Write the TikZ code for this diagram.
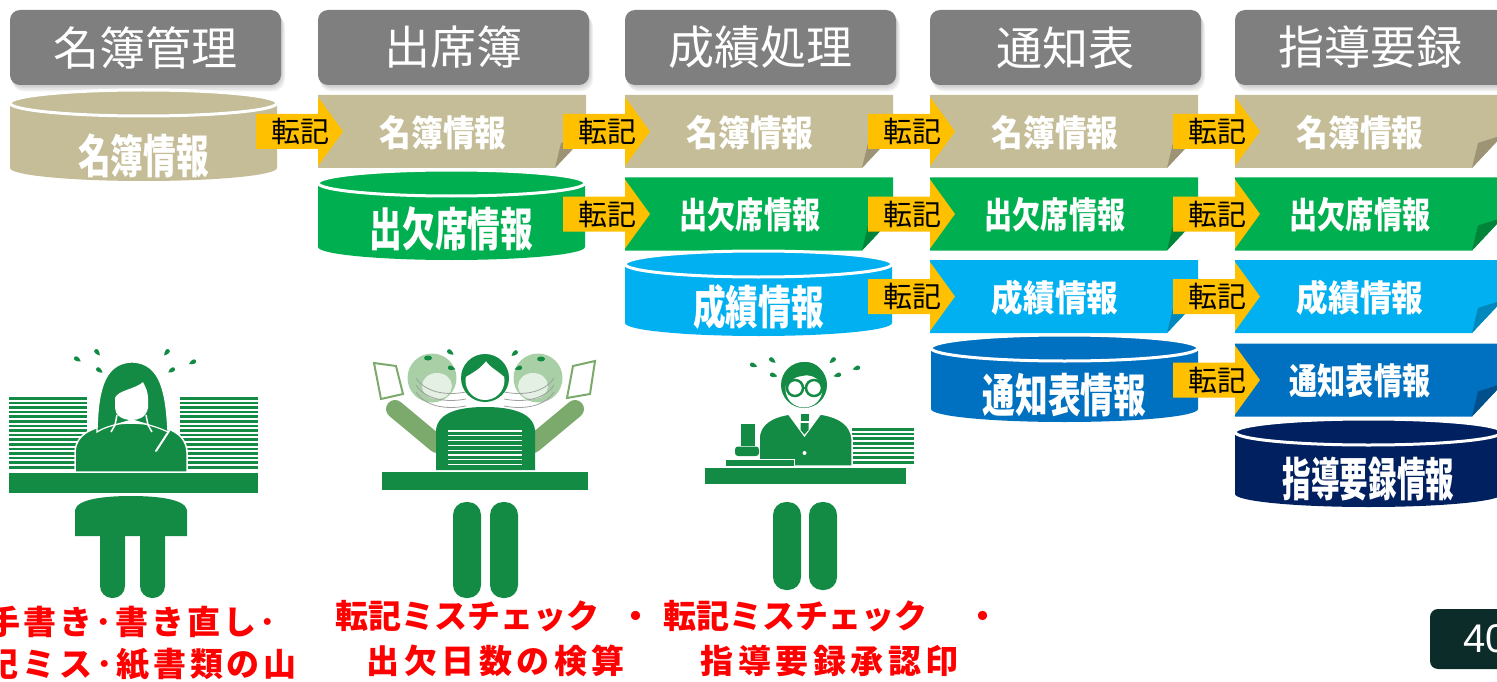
\documentclass[tikz,border=0pt]{standalone}
\usepackage{fontspec}
\newfontfamily\jp{Noto Sans CJK JP}
\newfontfamily\jpn{Noto Sans CJK JP}[FakeStretch=0.88]
\newfontfamily\jpnn{Noto Sans CJK JP}[FakeStretch=0.78]
\newfontfamily\jpc{Noto Sans CJK JP}[FakeStretch=0.71]
\newfontfamily\jpcc{Noto Sans CJK JP}[FakeStretch=0.62]
\newfontfamily\lat{Liberation Sans}

\definecolor{hdrgray}{HTML}{7F7F7F}
\definecolor{rowtan}{HTML}{C4BD97}
\definecolor{rowtanfold}{HTML}{9C9474}
\definecolor{rowgreen}{HTML}{00B050}
\definecolor{rowgreenfold}{HTML}{00843A}
\definecolor{rowsky}{HTML}{00B0F0}
\definecolor{rowskyfold}{HTML}{0088BC}
\definecolor{rowblue}{HTML}{0070C0}
\definecolor{rowbluefold}{HTML}{00508C}
\definecolor{rownavy}{HTML}{002060}
\definecolor{xferyellow}{HTML}{FFC000}
\definecolor{figgreen}{HTML}{148B45}
\definecolor{figlight}{HTML}{7BAA6C}
\definecolor{figpale}{HTML}{A9CFA6}
\definecolor{pagebg}{HTML}{0C2C2A}

% letter-spaced text: #1 extra space after every character
\makeatletter
\newcommand\spaced[2]{\def\sp@k{#1}\@tfor\sp@c:=#2\do{\sp@c\kern\sp@k}}
\makeatother

\tikzset{
  hdrbox/.style={fill=hdrgray, rounded corners=10pt, minimum width=271pt, minimum height=75pt,
    text=white, font=\jp\fontsize{46}{46}\selectfont, inner sep=0pt},
  bantext/.style={text=white, font=\bfseries\fontsize{36}{36}\selectfont, inner sep=0pt},
  cyltext/.style={text=white, font=\bfseries\fontsize{46}{46}\selectfont, inner sep=0pt},
  xfertext/.style={text=black, font=\jp\fontsize{29}{29}\selectfont, inner sep=0pt},
  memo/.style={text=red, font=\jp\bfseries\fontsize{33}{33}\selectfont, inner sep=0pt, anchor=west},
  pgnum/.style={text=white, font=\lat\fontsize{40}{40}\selectfont, inner sep=0pt, anchor=west},
}

% data banner with a curled lower right corner: left x, centre y, fill, fold fill, name, text
\newcommand\bannerbox[6]{%
  \fill[#3] (#1,#2-36.5) -- (#1+268,#2-36.5) -- (#1+268,#2+3.5) -- (#1+237,#2+36.5) -- (#1,#2+36.5) -- cycle;
  \fill[#4] (#1+237,#2+36.5) -- (#1+243,#2+11.5) -- (#1+268,#2+3.5) -- cycle;
  \node[bantext] (#5) at (#1+125,#2+1) {#6};
}
% database cylinder: left x, top centre y, bottom y, fill, name, text y, text
\newcommand\cylbox[7]{%
  \fill[#4] (#1,#2) -- (#1,#3-13) arc[start angle=180,end angle=0,x radius=133.5,y radius=13] -- (#1+267,#2) -- cycle;
  \filldraw[fill=#4,draw=white,line width=3pt] (#1+133.5,#2) ellipse[x radius=133.5,y radius=13];
  \node[cyltext] (#5) at (#1+133.5,#6) {#7};
}
% block arrow labelled 転記: x of the head base, centre y, name
\newcommand\xferarrow[3]{%
  \fill[xferyellow] (#1-62,#2-17.5) -- (#1,#2-17.5) -- (#1,#2-34.5) -- (#1+25,#2) -- (#1,#2+34.5) -- (#1,#2+17.5) -- (#1-62,#2+17.5) -- cycle;
  \node[xfertext] (#3) at (#1-18,#2) {転記};
}
% sweat drop: x, y, rotation
\newcommand\drop[3]{\fill[figgreen,shift={(#1,#2)},rotate=#3] (-4.5,0) .. controls (-1,-2.8) and (3.2,-3) .. (3.2,0) .. controls (3.2,3) and (-1,2.8) .. (-4.5,0) -- cycle;}

\begin{document}
\begin{tikzpicture}[x=1pt,y=-1pt]
\useasboundingbox (0,0) rectangle (1497,682);
\clip (0,0) rectangle (1497,682);

% ---- column headers
\foreach \x/\txt/\nm in {10/名簿管理/h1,318/出席簿/h2,625/成績処理/h3,930/通知表/h4,1235/指導要録/h5}{
  \foreach \k in {1,...,4}
    \fill[black,opacity=0.05,rounded corners=12pt] (\x+0.5*\k,10+1.2*\k) rectangle (\x+271+\k,85+1.6*\k);
  \node[hdrbox] (\nm) at (\x+135.5,47.5) {\txt};
}

% ---- copied data banners
\bannerbox{318}{131.5}{rowtan}{rowtanfold}{b21}{\jpn 名簿情報}
\bannerbox{625}{131.5}{rowtan}{rowtanfold}{b31}{\jpn 名簿情報}
\bannerbox{930}{131.5}{rowtan}{rowtanfold}{b41}{\jpn 名簿情報}
\bannerbox{1235}{131.5}{rowtan}{rowtanfold}{b51}{\jpn 名簿情報}
\bannerbox{625}{214}{rowgreen}{rowgreenfold}{b32}{\jpnn 出欠席情報}
\bannerbox{930}{214}{rowgreen}{rowgreenfold}{b42}{\jpnn 出欠席情報}
\bannerbox{1235}{214}{rowgreen}{rowgreenfold}{b52}{\jpnn 出欠席情報}
\bannerbox{930}{296.5}{rowsky}{rowskyfold}{b43}{\jpn 成績情報}
\bannerbox{1235}{296.5}{rowsky}{rowskyfold}{b53}{\jpn 成績情報}
\bannerbox{1235}{380}{rowblue}{rowbluefold}{b54}{\jpnn 通知表情報}

% ---- source databases
\cylbox{10}{103}{181}{rowtan}{d1}{156}{\jpc 名簿情報}
\cylbox{318}{183}{260}{rowgreen}{d2}{229}{\jpc 出欠席情報}
\cylbox{625}{264}{336}{rowsky}{d3}{307}{\jpc 成績情報}
\cylbox{931}{348}{422}{rowblue}{d4}{395}{\jpc 通知表情報}
\cylbox{1235}{432}{507}{rownavy}{d5}{479}{\jpcc 指導要録情報}

% ---- transfer arrows
\xferarrow{318}{131.5}{t12}
\xferarrow{625}{131.5}{t23}
\xferarrow{930}{131.5}{t34}
\xferarrow{1235}{131.5}{t45}
\xferarrow{625}{214}{u23}
\xferarrow{930}{214}{u34}
\xferarrow{1235}{214}{u45}
\xferarrow{930}{296.5}{v34}
\xferarrow{1235}{296.5}{v45}
\xferarrow{1235}{380}{w45}

% ---- figure 1: writer between paper piles
\foreach \k in {0,...,15}{
  \fill[figgreen] (9,397+\k*4.6) rectangle (87,399.6+\k*4.6);
  \fill[figgreen] (180,397+\k*4.6) rectangle (258,399.6+\k*4.6);
}
\filldraw[fill=figgreen,draw=white,line width=1.5pt] (75,472) -- (75,452) .. controls (76,432) and (96,424) .. (131,423) .. controls (166,424) and (186,432) .. (187,452) -- (187,472) -- cycle;
\filldraw[fill=figgreen,draw=white,line width=1.2pt] (97,432) .. controls (98,395) and (102,363) .. (132,362) .. controls (162,363) and (166,395) .. (168,432) .. controls (160,428) and (152,426) .. (146,424) -- (132,420) -- (118,424) .. controls (110,426) and (103,428) .. (97,432) -- cycle;
\fill[white] (115,398) .. controls (118,390) and (136,389) .. (143,382) .. controls (146,388) and (148,392) .. (148,398) -- (148,408) .. controls (146,418) and (138,420) .. (131.5,420) .. controls (122,420) and (115,415) .. (115,408) -- cycle;
\draw[white,line width=1.5pt] (117,415) -- (115,425) -- (111,432);
\draw[white,line width=1.5pt] (146,415) -- (148,425) -- (152,432);
\draw[white,line width=2pt,line cap=round] (156,451) -- (169,431);
\drop{77}{359}{147}\drop{97}{352}{129}\drop{99}{370}{143}
\drop{167}{352}{51}\drop{172}{370}{32}\drop{193}{362}{28}
\fill[figgreen] (9,473) rectangle (258,493);
\fill[figgreen,rounded corners=12pt] (100,520) rectangle (125,598);
\fill[figgreen,rounded corners=12pt] (140,520) rectangle (165,598);
\fill[figgreen] (75,536) -- (75,510) .. controls (77,499) and (105,496) .. (131,496) .. controls (157,496) and (185,499) .. (187,510) -- (187,536) -- cycle;

% ---- figure 2: checker looking left and right
\draw[figlight,line width=2pt] (374,363) -- (396,366) -- (403,394) -- (381,399) -- cycle;
\draw[figlight,line width=2pt] (573,366) -- (595,361) -- (590,394) -- (567,398) -- cycle;
\fill[figpale] (432,378) circle (24.5);
\fill[figpale] (538,378) circle (24.5);
\fill[white,opacity=0.7] (437,386) ellipse[x radius=15,y radius=13];
\fill[white,opacity=0.7] (533,386) ellipse[x radius=15,y radius=13];
\fill[figgreen] (428,358) ellipse[x radius=4,y radius=2.5];
\fill[figgreen] (541,359) ellipse[x radius=4,y radius=2.5];
\foreach \d in {0,7,14}{
  \draw[gray!75,line width=0.8pt] (416,378+\d) .. controls (425,392+\d) and (445,396+\d) .. (466,392+\d);
  \draw[gray!75,line width=0.8pt] (554,378+\d) .. controls (545,392+\d) and (525,396+\d) .. (504,392+\d);
}
\draw[figlight,line width=18pt,line cap=round] (437,444) -- (395,409);
\draw[figlight,line width=18pt,line cap=round] (533,444) -- (575,409);
\fill[figgreen] (436,470) -- (436,430) .. controls (438,412) and (460,407) .. (485,407) .. controls (510,407) and (533,412) .. (535,430) -- (535,470) -- cycle;
\foreach \k in {0,...,7}
  \draw[white,line width=1.2pt] (448,431+\k*4.8) -- (522,431+\k*4.8);
\fill[figgreen] (485,378) circle (24);
\fill[white] (485,380.5) circle (19.5);
\fill[figgreen] (465.5,377) .. controls (465,362) and (474,356) .. (485,356) .. controls (497,356) and (505,363) .. (504.5,377) .. controls (498,371) and (490,367) .. (486,361) .. controls (480,369) and (472,373) .. (465.5,377) -- cycle;
\drop{450}{352}{143}\drop{515}{353}{40}\drop{451}{368}{164}\drop{519}{368}{16}
\fill[figgreen] (382,472) rectangle (588,490);
\fill[figgreen,rounded corners=13pt] (453,502) rectangle (481,598);
\fill[figgreen,rounded corners=13pt] (490,502) rectangle (518,598);

% ---- figure 3: approver with a seal
\foreach \k in {0,...,7}
  \fill[figgreen] (852,428+\k*4.7) rectangle (914,430.6+\k*4.7);
\filldraw[fill=figgreen,draw=white,line width=1.5pt] (759,466) -- (759,438) .. controls (760,420) and (780,413) .. (805,413) .. controls (830,413) and (850,420) .. (852,438) -- (852,466) -- cycle;
\fill[white] (787,413) -- (804.5,437) -- (822,413) -- cycle;
\fill[figgreen] (800.5,414) rectangle (808.5,421);
\fill[figgreen] (800.5,423) -- (808.5,423) -- (808.5,430) -- (804.5,434.5) -- (800.5,430) -- cycle;
\fill[white] (804.5,453) circle (2);
\fill[figgreen] (804,385) circle (23);
\fill[white] (804,389) circle (18.5);
\fill[figgreen] (785.5,386) .. controls (784,370) and (794,362) .. (805,362) .. controls (818,362) and (826,372) .. (823,386) .. controls (818,377) and (810,374) .. (802,376) .. controls (794,377) and (789,381) .. (785.5,386) -- cycle;
\draw[figgreen,line width=2.5pt] (795,388) circle (8);
\draw[figgreen,line width=2.5pt] (814,388) circle (8);
\draw[figgreen,line width=2pt] (803,388) -- (806,388);
\drop{753}{365}{159}\drop{772}{360}{142}\drop{773}{375}{162}
\drop{833}{360}{41}\drop{838}{375}{16}\drop{857}{368}{18}
\fill[figgreen] (741,424) rectangle (755,446);
\fill[figgreen,rounded corners=3pt] (735,446.5) rectangle (759,456);
\filldraw[fill=figgreen,draw=white,line width=1pt] (725,459) rectangle (794,466.5);
\fill[figgreen] (705,468) rectangle (906,484);
\fill[figgreen,rounded corners=13pt] (773,502) rectangle (801,590);
\fill[figgreen,rounded corners=13pt] (809,502) rectangle (837,590);

% ---- problem notes
\node[memo] (m1a) at (-12.5,622) {\spaced{3pt}{手書き･書き直し･}};
\node[memo] (m1b) at (-14.3,664) {\spaced{3.8pt}{記ミス･紙書類の山}};
\node[memo] (m2a) at (335.5,616) {\spaced{0pt}{転記ミスチェック}\kern20pt・};
\node[memo] (m2b) at (366.5,661) {\spaced{4.5pt}{出欠日数の検算}};
\node[memo] (m3a) at (663.5,616) {\spaced{0pt}{転記ミスチェック}\kern39pt・};
\node[memo] (m3b) at (700.5,661) {\spaced{4.5pt}{指導要録承認印}};

% ---- page number
\fill[pagebg,rounded corners=8pt] (1430,609) rectangle (1540,669);
\node[pgnum] (pg) at (1463,639) {40};
\end{tikzpicture}
\end{document}
